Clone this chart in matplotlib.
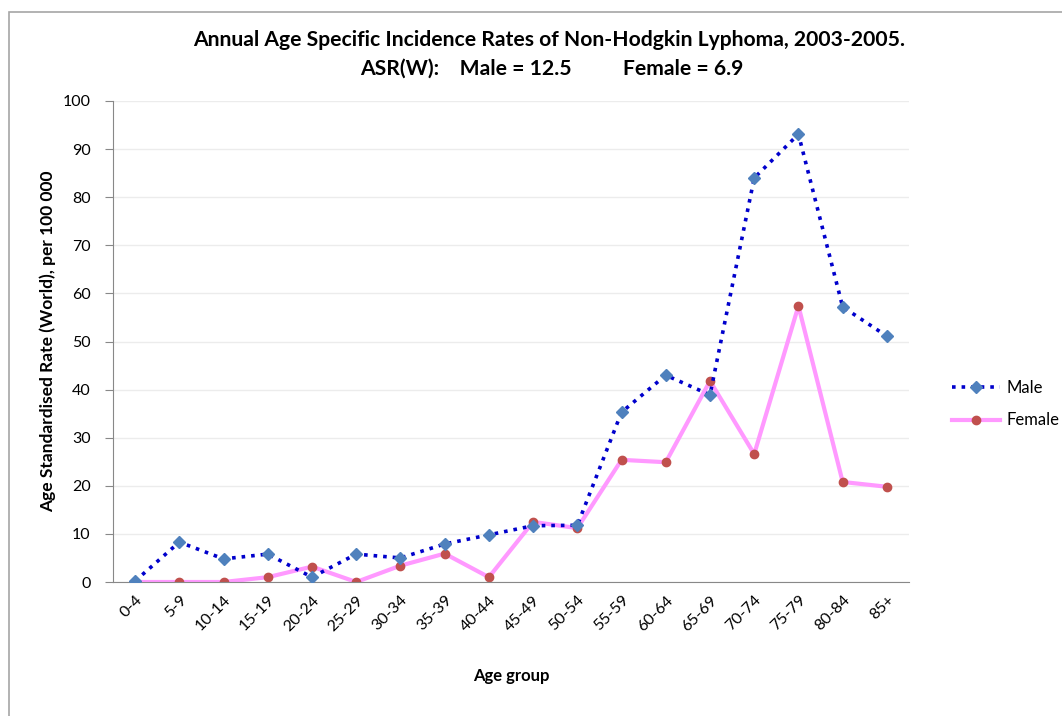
import matplotlib
matplotlib.use('Agg')
import matplotlib.pyplot as plt
from matplotlib.patches import Rectangle

plt.rcParams['font.family'] = ['Lato', 'DejaVu Sans']

age_groups = ['0-4', '5-9', '10-14', '15-19', '20-24', '25-29', '30-34', '35-39',
              '40-44', '45-49', '50-54', '55-59', '60-64', '65-69', '70-74',
              '75-79', '80-84', '85+']
male = [0.2, 8.3, 4.8, 5.8, 1.0, 5.8, 5.0, 7.9, 9.8, 11.7, 11.8,
        35.3, 43.0, 38.9, 84.0, 93.1, 57.2, 51.1]
female = [0.0, 0.0, 0.0, 1.0, 3.2, 0.0, 3.4, 5.9, 1.0, 12.5, 11.2,
          25.4, 24.9, 41.8, 26.6, 57.4, 20.8, 19.8]

fig = plt.figure(figsize=(10.62, 7.16), dpi=100)
ax = fig.add_axes([113 / 1062, 1 - 582 / 716, (909 - 113) / 1062, (582 - 101) / 716])

# chart border like the spreadsheet frame
fig.patches.append(Rectangle((9 / 1062, -0.1), 1.2, 1 - 12 / 716 + 0.1,
                             transform=fig.transFigure, fill=False,
                             edgecolor='#a6a6a6', linewidth=1.2))

x = range(len(age_groups))
ax.plot(x, male, linestyle=':', color='#0000cc', linewidth=2.6,
        marker='D', markersize=6.5, markerfacecolor='#4f81bd',
        markeredgecolor='#4f81bd', label='Male', zorder=3)
ax.plot(x, female, linestyle='-', color='#ff99ff', linewidth=3,
        marker='o', markersize=6, markerfacecolor='#c0504d',
        markeredgecolor='#c0504d', label='Female', zorder=2)

ax.set_xlim(-0.5, len(age_groups) - 0.5)
ax.set_ylim(0, 100)
ax.set_yticks(range(0, 101, 10))
ax.set_xticks(list(x))
ax.set_xticklabels(age_groups, rotation=45, ha='right', rotation_mode='anchor')
ax.tick_params(axis='x', length=0, pad=8, labelsize=11.5)
ax.tick_params(axis='y', length=6, color='#888888', labelsize=11.5, pad=10)
ax.grid(axis='y', color='#ececec', linewidth=1)
ax.set_axisbelow(True)
for s in ['top', 'right']:
    ax.spines[s].set_visible(False)
ax.spines['left'].set_color('#888888')
ax.spines['bottom'].set_color('#888888')

ax.set_ylabel('Age Standardised Rate (World), per 100 000', fontsize=12.5,
              fontweight='bold', labelpad=5)
ax.set_xlabel('Age group', fontsize=12, fontweight='bold', labelpad=25)

fig.text(0.517, 1 - 40 / 716, 'Annual Age Specific Incidence Rates of Non-Hodgkin Lyphoma, 2003-2005.',
         ha='center', va='center', fontsize=15.2, fontweight='bold')
fig.text(0.52, 1 - 69 / 716, 'ASR(W):    Male = 12.5          Female = 6.9',
         ha='center', va='center', fontsize=15.2, fontweight='bold')

ax.legend(loc='center left', bbox_to_anchor=(1.054, 0.37), frameon=False,
          fontsize=12, handlelength=2.9, handletextpad=0.4, labelspacing=1.0,
          borderaxespad=0, borderpad=0)

fig.savefig('out.png', dpi=100)
